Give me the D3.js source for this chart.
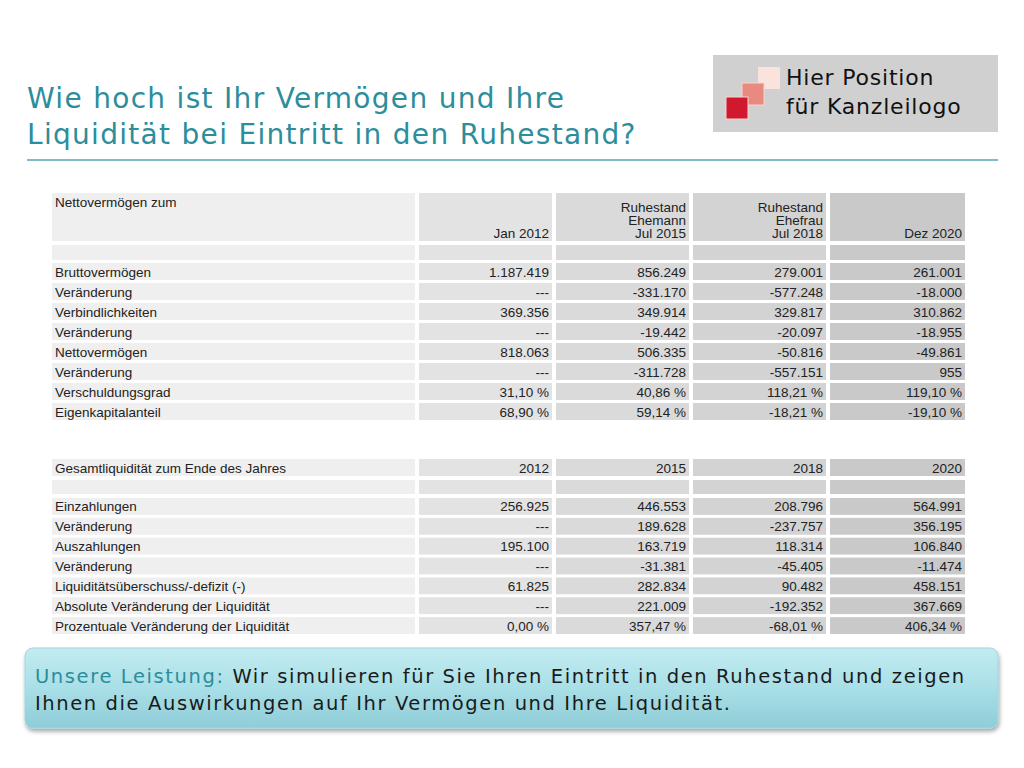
<!DOCTYPE html>
<html>
<head>
<meta charset="utf-8">
<script src="https://d3js.org/d3.v7.min.js"></script>
<style>body{margin:0;background:#fff}</style>
</head>
<body>
<script>
// data
const headers1 = [["Jan 2012"], ["Ruhestand", "Ehemann", "Jul 2015"], ["Ruhestand", "Ehefrau", "Jul 2018"], ["Dez 2020"]];
const labels1 = ["Bruttovermögen", "Veränderung", "Verbindlichkeiten", "Veränderung", "Nettovermögen", "Veränderung", "Verschuldungsgrad", "Eigenkapitalanteil"];
const values1 = [
  ["1.187.419", "856.249", "279.001", "261.001"],
  ["---", "-331.170", "-577.248", "-18.000"],
  ["369.356", "349.914", "329.817", "310.862"],
  ["---", "-19.442", "-20.097", "-18.955"],
  ["818.063", "506.335", "-50.816", "-49.861"],
  ["---", "-311.728", "-557.151", "955"],
  ["31,10 %", "40,86 %", "118,21 %", "119,10 %"],
  ["68,90 %", "59,14 %", "-18,21 %", "-19,10 %"]
];
const headers2 = ["2012", "2015", "2018", "2020"];
const labels2 = ["Einzahlungen", "Veränderung", "Auszahlungen", "Veränderung", "Liquiditätsüberschuss/-defizit (-)", "Absolute Veränderung der Liquidität", "Prozentuale Veränderung der Liquidität"];
const values2 = [
  ["256.925", "446.553", "208.796", "564.991"],
  ["---", "189.628", "-237.757", "356.195"],
  ["195.100", "163.719", "118.314", "106.840"],
  ["---", "-31.381", "-45.405", "-11.474"],
  ["61.825", "282.834", "90.482", "458.151"],
  ["---", "221.009", "-192.352", "367.669"],
  ["0,00 %", "357,47 %", "-68,01 %", "406,34 %"]
];

const W = 1024, H = 768;
const svg = d3.select("body").append("svg").attr("width", W).attr("height", H);
const teal = "#2c8d9c";
const font = "Liberation Sans, Arial, sans-serif";

// title
svg.append("text").attr("fill", teal)
  .style("font-family", "DejaVu Sans, sans-serif").style("font-size", "28px").style("letter-spacing", "1.3px")
  .selectAll("tspan").data(["Wie hoch ist Ihr Vermögen und Ihre", "Liquidität bei Eintritt in den Ruhestand?"])
  .join("tspan").attr("x", 27).attr("y", (d, i) => 108 + i * 36).text(d => d);
svg.append("line").attr("x1", 27).attr("x2", 998).attr("y1", 160).attr("y2", 160)
  .attr("stroke", "#7fbcc6").attr("stroke-width", 2);

// logo
const logo = svg.append("g");
logo.append("rect").attr("x", 713).attr("y", 55).attr("width", 285).attr("height", 77).attr("fill", "#d0d0d0");
logo.append("rect").attr("x", 758).attr("y", 67).attr("width", 22).attr("height", 22).attr("fill", "#fbe3dd");
logo.append("rect").attr("x", 742).attr("y", 83).attr("width", 22).attr("height", 22).attr("fill", "#e88a80").attr("stroke", "#f6d6d0");
logo.append("rect").attr("x", 726).attr("y", 97).attr("width", 22).attr("height", 22).attr("fill", "#d0192e").attr("stroke", "#f6d6d0");
logo.append("text").style("font-family", "DejaVu Sans, sans-serif").style("font-size", "22px").style("letter-spacing", "0.8px").attr("fill", "#111")
  .selectAll("tspan").data(["Hier Position", "für Kanzleilogo"]).join("tspan")
  .attr("x", 786).attr("y", (d, i) => 85 + i * 29).text(d => d);

// table geometry
const colEdges = [52, 419, 556, 693, 830];
const colW = [363, 133, 133, 133, 135];
const shades = ["#efefef", "#e3e3e3", "#dadada", "#d3d3d3", "#c9c9c9"];
const g = svg.append("g").style("font-family", font).style("font-size", "13.5px").attr("fill", "#222");

function row(y, h, cells) {
  colEdges.forEach((x, i) => {
    g.append("rect").attr("x", x).attr("y", y).attr("width", colW[i]).attr("height", h).attr("fill", shades[i]);
  });
  if (!cells) return;
  cells.forEach((c, i) => {
    g.append("text")
      .attr("x", i === 0 ? colEdges[0] + 3 : colEdges[i] + colW[i] - 3)
      .attr("y", y + h - 3.5)
      .attr("text-anchor", i === 0 ? "start" : "end")
      .text(c);
  });
}

// table 1
row(193, 48, null);
g.append("text").attr("x", 55).attr("y", 207).text("Nettovermögen zum");
headers1.forEach((h, i) => h.forEach((t, k) => {
  g.append("text").attr("x", colEdges[i + 1] + colW[i + 1] - 3).attr("y", 238 - (h.length - 1 - k) * 13)
    .attr("text-anchor", "end").text(t);
}));
row(245, 15, null);
const y1 = d3.scaleBand().domain(d3.range(labels1.length)).range([263, 420]).paddingInner(0.15);
labels1.forEach((l, i) => row(y1(i), y1.bandwidth(), [l, ...values1[i]]));

// table 2
row(459, 17, ["Gesamtliquidität zum Ende des Jahres", ...headers2]);
row(480, 14, null);
const y2 = d3.scaleBand().domain(d3.range(labels2.length)).range([498, 634]).paddingInner(0.15);
labels2.forEach((l, i) => row(y2(i), y2.bandwidth(), [l, ...values2[i]]));

// bottom box
const defs = svg.append("defs");
const grad = defs.append("linearGradient").attr("id", "bg").attr("x1", 0).attr("x2", 0).attr("y1", 0).attr("y2", 1);
grad.append("stop").attr("offset", "0%").attr("stop-color", "#c2ecf1");
grad.append("stop").attr("offset", "50%").attr("stop-color", "#a9dfe7");
grad.append("stop").attr("offset", "100%").attr("stop-color", "#8fcdd8");
const f = defs.append("filter").attr("id", "sh").attr("x", "-5%").attr("y", "-20%").attr("width", "110%").attr("height", "150%");
f.append("feDropShadow").attr("dx", 1).attr("dy", 3).attr("stdDeviation", 2).attr("flood-color", "#000").attr("flood-opacity", 0.35);
svg.append("rect").attr("x", 25).attr("y", 648).attr("width", 973).attr("height", 80).attr("rx", 8)
  .attr("fill", "url(#bg)").attr("stroke", "#9fd6df").attr("filter", "url(#sh)");
const bt = svg.append("text").style("font-family", "DejaVu Sans, sans-serif").style("font-size", "19.5px").style("letter-spacing", "1.6px").attr("fill", "#1a1a1a");
const l1 = bt.append("tspan").attr("x", 35).attr("y", 683);
l1.append("tspan").attr("fill", teal).text("Unsere Leistung: ");
l1.append("tspan").text("Wir simulieren für Sie Ihren Eintritt in den Ruhestand und zeigen");
bt.append("tspan").attr("x", 35).attr("y", 710).text("Ihnen die Auswirkungen auf Ihr Vermögen und Ihre Liquidität.");
</script>
</body>
</html>
